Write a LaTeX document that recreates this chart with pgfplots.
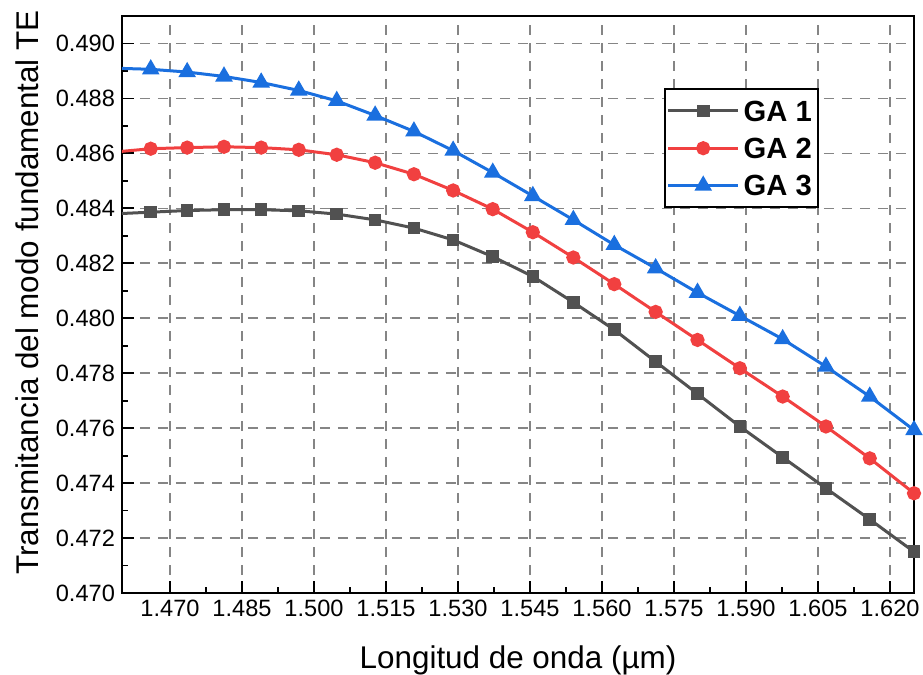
\documentclass[border=0pt]{standalone}
\usepackage{fontspec}
\setmainfont{Liberation Sans}
\usepackage{pgfplots}
\pgfplotsset{compat=1.18}
\usepackage{pgfplotstable}
\definecolor{c1}{HTML}{515151}
\definecolor{c2}{HTML}{F14040}
\definecolor{c3}{HTML}{1A6FDF}
\definecolor{gridc}{HTML}{858585}

\pgfplotstableread{
x        ga1      ga2      ga3
1.45848  0.48380  0.48605  0.48910
1.46599  0.48386  0.48617  0.48906
1.47358  0.48392  0.48621  0.48896
1.48125  0.48395  0.48624  0.48880
1.48900  0.48395  0.48621  0.48858
1.49683  0.48391  0.48613  0.48829
1.50474  0.48379  0.48595  0.48791
1.51274  0.48358  0.48566  0.48738
1.52082  0.48328  0.48524  0.48680
1.52899  0.48285  0.48465  0.48610
1.53724  0.48224  0.48397  0.48530
1.54559  0.48152  0.48313  0.48445
1.55403  0.48058  0.48221  0.48358
1.56256  0.47958  0.48124  0.48267
1.57118  0.47842  0.48023  0.48182
1.57990  0.47725  0.47921  0.48093
1.58872  0.47606  0.47818  0.48009
1.59764  0.47494  0.47715  0.47924
1.60666  0.47381  0.47606  0.47824
1.61578  0.47268  0.47490  0.47715
1.62500  0.47150  0.47363  0.47593
}\datatable

\begin{document}
\begin{tikzpicture}
\begin{axis}[
  scale only axis, width=396pt, height=288.5pt,
  xmin=1.46, xmax=1.625, ymin=0.470, ymax=0.491,
  xtick={1.470,1.485,1.500,1.515,1.530,1.545,1.560,1.575,1.590,1.605,1.620},
  ytick={0.470,0.472,0.474,0.476,0.478,0.480,0.482,0.484,0.486,0.488,0.490},
  minor x tick num=1, minor y tick num=1,
  tick align=inside, xtick pos=bottom, ytick pos=left,
  major tick length=6pt, minor tick length=3pt,
  tick style={black, line width=0.9pt},
  axis line style={line width=1pt},
  grid=major,
  major grid style={gridc, line width=0.8pt, dash pattern=on 5pt off 4pt},
  scaled ticks=false,
  /pgf/number format/assume math mode=true,
  xticklabel style={/pgf/number format/fixed, /pgf/number format/fixed zerofill, /pgf/number format/precision=3},
  yticklabel style={/pgf/number format/fixed, /pgf/number format/fixed zerofill, /pgf/number format/precision=3},
  tick label style={font=\fontsize{11.8}{14}\selectfont},
  label style={font=\fontsize{15.7}{18}\selectfont},
  xlabel={Longitud de onda (µm)},
  ylabel={Transmitancia del modo fundamental TE},
  xlabel style={at={(axis description cs:0.5,-0.116)}, anchor=center},
  ylabel style={at={(axis description cs:-0.12,0.521)}, anchor=center},
  legend style={at={(0.684,0.875)}, anchor=north west, draw=black, line width=1pt,
    font=\bfseries\fontsize{14.6}{17}\selectfont,
    inner xsep=1pt, inner ysep=1.5pt, row sep=0pt,
    nodes={inner ysep=4.2pt, inner xsep=2pt, text height=10.3pt, text depth=0pt}},
  legend cell align=left,
  legend image code/.code={\draw[mark repeat=2,mark phase=2] plot coordinates {(0pt,0pt) (17.5pt,0pt) (35pt,0pt)};},
]
\addplot[c1, line width=1.5pt, mark=square*, mark size=2.4pt, mark phase=1, mark repeat=1] table[x=x, y=ga1] {\datatable};
\addlegendentry{GA 1}
\addplot[c2, line width=1.5pt, mark=*, mark size=2.8pt, mark phase=1, mark repeat=1] table[x=x, y=ga2] {\datatable};
\addlegendentry{GA 2}
\addplot[c3, line width=1.5pt, mark=triangle*, mark size=3.6pt, mark phase=1, mark repeat=1] table[x=x, y=ga3] {\datatable};
\addlegendentry{GA 3}
\end{axis}
\pgfresetboundingbox
\path (-61pt,-41pt) rectangle (400.5pt,296.5pt);
\end{tikzpicture}
\end{document}
